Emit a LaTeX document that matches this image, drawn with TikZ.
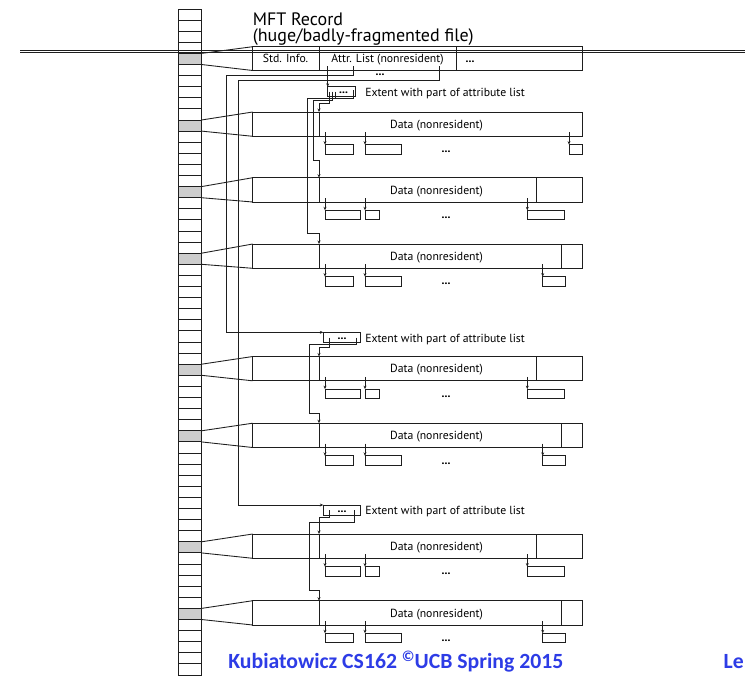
\documentclass[tikz,border=0pt]{standalone}
\usepackage{fontspec}
\usepackage{graphicx}
\setmainfont{PT Sans}
\newfontfamily\footfont{Carlito}
\usetikzlibrary{arrows.meta,fit}
\definecolor{footblue}{RGB}{45,60,230}
\definecolor{cellgray}{RGB}{205,205,205}
\definecolor{linegray}{RGB}{30,30,30}
\begin{document}
\begin{tikzpicture}[x=0.75pt,y=-0.75pt,
  ln/.style={line width=0.65pt,draw=linegray},
  arr/.style={ln,-{Stealth[length=2.6pt,width=2.2pt]}},
  fbox/.style={ln,inner sep=0pt,outer sep=0pt},
  small/.style={font=\fontsize{8.8}{9}\selectfont,inner sep=0pt,text=black},
  big/.style={font=\fontsize{13.5}{15}\selectfont,inner sep=0pt,anchor=base west},
  dots/.style={inner sep=0pt,anchor=base,font=\fontsize{8.8}{9}\selectfont\bfseries},
]
\useasboundingbox (0,0) rectangle (745,675);
\clip (0,0) rectangle (745,675);
\fill[white] (0,0) rectangle (745,675);

% MFT column
\foreach \k in {4,10,16,22,32,38,48,54}{
  \pgfmathsetmacro\ct{9+11.1*\k}
  \fill[cellgray] (178.5,\ct) rectangle (201.5,\ct+11.1);
}
\foreach \k in {0,...,59}{
  \pgfmathsetmacro\ct{9+11.1*\k}
  \pgfmathsetmacro\cb{\ct+11.1}
  \node[fbox,fit={(178.5,\ct) (201.5,\cb)}] (cell\k) {};
}

% title
\node[big] (t1) at (252.5,25) {MFT Record};
\node[big] (t2) at (252.5,41.3) {(huge/badly-fragmented file)};

% MFT record
\node[fbox,fit={(252.7,46.7) (582,70.5)}] (rec) {};
\draw[ln] (319,46.7) -- (319,70.5);
\draw[ln] (456.7,46.7) -- (456.7,70.5);
\node[small,anchor=base] (si) at (285.5,62.9) {Std. Info.};
\node[small,anchor=base] (al) at (387.5,62.9) {Attr. List (nonresident)};
\node[dots] (rd) at (470,62.7) {...};
\node[dots] (rd2) at (380,75.5) {...};
\draw[ln] (cell4.north east) -- (rec.north west);
\draw[ln] (cell4.south east) -- (rec.south west);

% double line
\draw[ln] (20,50) -- (745,50);
\draw[ln] (20,52.6) -- (745,52.6);

% data rows
\foreach \n/\t/\k/\dv/\ax/\bx/\cx/\dx/\ex/\fx in {
 A/112/10/0/325/353.3/365/401.7/569/582.7,
 B/177.7/16/536.5/325/360/365/379.3/527.3/564.3,
 C/244/22/561/325/353.3/365/401.7/542.7/565.7,
 D/356.5/32/536.5/325/360/365/379.3/527.3/564.3,
 E/423.2/38/561/325/353.3/365/401.7/542.7/565.7,
 F/534/48/536.5/325/360/365/379.3/527.3/564.3,
 G/600.7/54/561/325/353.3/365/401.7/542.7/565.7}{
  \pgfmathsetmacro\b{\t+24.3}
  \pgfmathsetmacro\st{\b+8.3}
  \pgfmathsetmacro\sb{\b+17.8}
  \node[fbox,fit={(252.7,\t) (582.7,\b)}] (row\n) {};
  \coordinate (d\n) at (319,\t);
  \draw[ln] (d\n) -- (319,\b);
  \ifdim\dv pt>0pt \draw[ln] (\dv,\t) -- (\dv,\b); \fi
  \node[small,anchor=base] (lab\n) at (436.5,\t+16.3) {Data (nonresident)};
  \node[fbox,fit={(\ax,\st) (\bx,\sb)}] (s\n1) {};
  \node[fbox,fit={(\cx,\st) (\dx,\sb)}] (s\n2) {};
  \node[fbox,fit={(\ex,\st) (\fx,\sb)}] (s\n3) {};
  \draw[arr] (\ax,\b-4) -- (s\n1.north west);
  \draw[arr] (\cx,\b-4) -- (s\n2.north west);
  \draw[arr] (\ex,\b-4) -- (s\n3.north west);
  \node[dots] (dd\n) at (446,\b+16.5) {...};
  \draw[ln] (cell\k.north east) -- (row\n.north west);
  \draw[ln] (cell\k.south east) -- (row\n.south west);
}

% extents
\node[fbox,fit={(327.7,86.8) (355.7,96.5)}] (ext1) {};
\node[dots] (e1d) at (343.5,93.5) {...};
\node[small,anchor=base west] (e1t) at (365,96.3) {Extent with part of attribute list};
\node[fbox,fit={(323.3,332.3) (360,342.3)}] (ext2) {};
\node[dots] (e2d) at (342,339.5) {...};
\node[small,anchor=base west] (e2t) at (365,342) {Extent with part of attribute list};
\node[fbox,fit={(323.3,505) (360,515)}] (ext3) {};
\node[dots] (e3d) at (342,512.2) {...};
\node[small,anchor=base west] (e3t) at (365,514.7) {Extent with part of attribute list};

% connectors from attribute list
\draw[arr] (327.7,66) -- (ext1.north west);
\draw[arr] (353.3,66) |- (226.7,75.7) |- (ext2.north west);
\draw[arr] (439.3,66) |- (238.5,80.7) |- (ext3.north west);

% connectors from extent 1
\draw[arr] (329.5,91.5) |- (319,103.3) -- (dA);
\draw[arr] (332.5,91.5) |- (313.3,100.8) |- (319,160) -- (dB);
\draw[arr] (353,90) |- (307.5,98.3) |- (319,233.3) -- (dC);
\draw[ln] (335.7,91.5) -- (335.7,98.3);

% connectors from extent 2
\draw[arr] (329,337.7) |- (319,347.3) -- (dD);
\draw[arr] (356,337.7) |- (309.3,344) |- (319,413.3) -- (dE);

% connectors from extent 3
\draw[arr] (329,510) |- (319,517.7) -- (dF);
\draw[arr] (354,510) |- (309.3,522.3) |- (319,590) -- (dG);

% footer
\node[anchor=base west,inner sep=0pt,text=footblue] (foot) at (228,668)
  {\resizebox{251.25pt}{11.4pt}{\footfont\bfseries Kubiatowicz CS162 \smash{\raisebox{0.3em}{\scriptsize ©}}UCB Spring 2015}};
\node[anchor=base east,inner sep=0pt,text=footblue] (lec) at (744,668)
  {\resizebox{!}{11.4pt}{\footfont\bfseries Le\vphantom{b}}};
\end{tikzpicture}
\end{document}
